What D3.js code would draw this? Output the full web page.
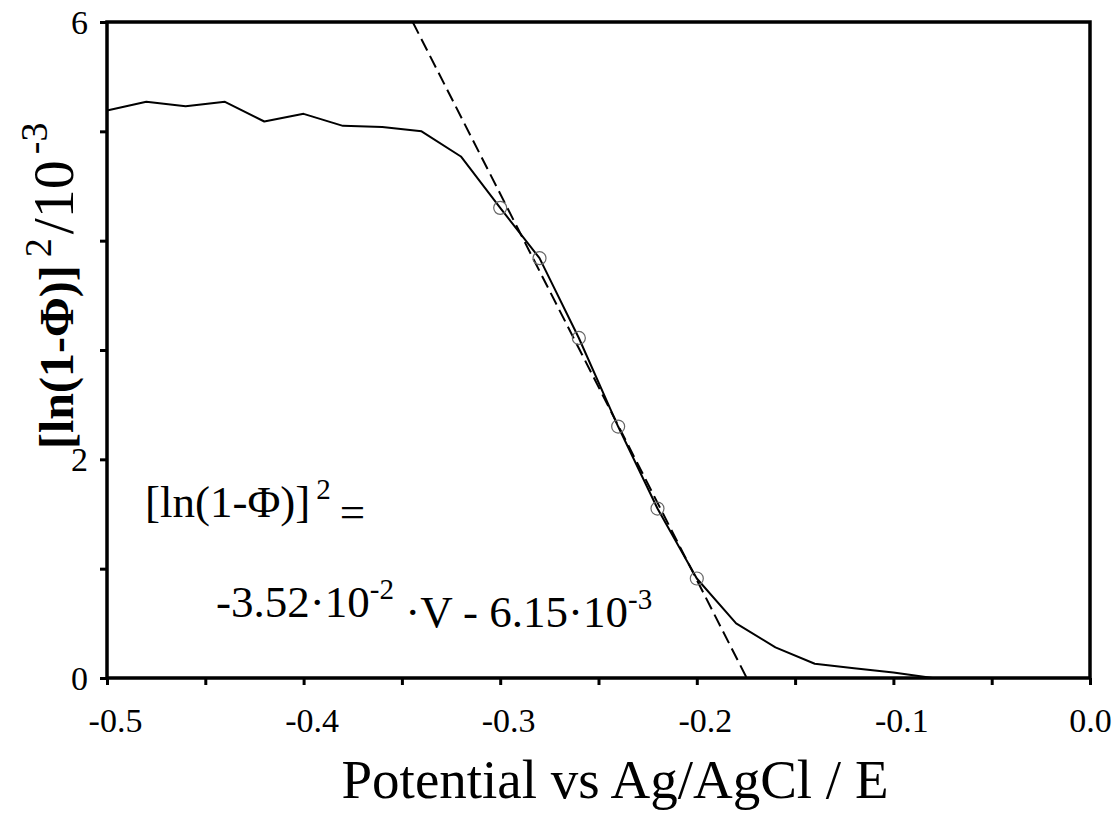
<!DOCTYPE html>
<html>
<head>
<meta charset="utf-8">
<script src="https://cdn.jsdelivr.net/npm/d3@7"></script>
<style>
  body { margin: 0; background: #fff; }
  svg { display: block; font-family: "Liberation Serif", "Times New Roman", serif; }
  .tick text { font-family: "Liberation Serif", "Times New Roman", serif; }
</style>
</head>
<body>
<div id="chart"></div>
<script>
/************************** DATA **************************/

// potential vs Ag/AgCl, V
var potential = [-0.50, -0.48, -0.46, -0.44, -0.42, -0.40, -0.38, -0.36, -0.34, -0.32, -0.30,
                 -0.28, -0.26, -0.24, -0.22, -0.20, -0.18, -0.16, -0.14, -0.12, -0.10, -0.08];
// [ln(1-Phi)]^2 / 10^-3
var lnSquared = [5.19, 5.27, 5.23, 5.27, 5.09, 5.16, 5.05, 5.04, 5.00, 4.77, 4.30,
                 3.84, 3.11, 2.30, 1.55, 0.91, 0.50, 0.28, 0.13, 0.09, 0.05, 0.00];

// points used for the linear fit
var fitPotential = [-0.30, -0.28, -0.26, -0.24, -0.22, -0.20];
var fitValues = [4.30, 3.84, 3.11, 2.30, 1.55, 0.91];

// ends of the dashed fit line
var fitLineX = [-0.3445, -0.1746];
var fitLineY = [6, 0];

var xTicks = [-0.5, -0.45, -0.4, -0.35, -0.3, -0.25, -0.2, -0.15, -0.1, -0.05, 0.0];
var xTickLabels = ["-0.5", "", "-0.4", "", "-0.3", "", "-0.2", "", "-0.1", "", "0.0"];
var yTicks = [0, 1, 2, 3, 4, 5, 6];
var yTickLabels = ["0", "", "2", "", "", "", "6"];

/************************** RENDER **************************/

var margin = { top: 22, right: 29, bottom: 136, left: 107 },
    width = 1119 - margin.left - margin.right,
    height = 814 - margin.top - margin.bottom;

var svg = d3.select("#chart").append("svg")
    .attr("width", 1119)
    .attr("height", 814);

var g = svg.append("g")
    .attr("transform", "translate(" + margin.left + "," + margin.top + ")");

var x = d3.scaleLinear().domain([-0.5, 0]).range([0, width]);
var y = d3.scaleLinear().domain([0, 6]).range([height, 0]);

g.append("clipPath").attr("id", "plot")
  .append("rect").attr("width", width).attr("height", height);

// axes
var xAxis = d3.axisBottom(x)
    .tickValues(xTicks)
    .tickSize(7)
    .tickPadding(23)
    .tickFormat(function(d, i) { return xTickLabels[i]; });

var yAxis = d3.axisLeft(y)
    .tickValues(yTicks)
    .tickSize(7)
    .tickPadding(12)
    .tickFormat(function(d, i) { return yTickLabels[i]; });

var gx = g.append("g")
    .attr("transform", "translate(0," + height + ")")
    .call(xAxis);
var gy = g.append("g").call(yAxis);

[gx, gy].forEach(function(a) {
  a.select(".domain").remove();
  a.selectAll(".tick line").attr("stroke", "#000").attr("stroke-width", 3);
  a.selectAll(".tick text").attr("fill", "#000").style("font-size", "34px");
});
gy.selectAll(".tick text").attr("dy", "0.34em");
// negative labels sit a little right of their tick
gx.selectAll(".tick text").attr("dx", function(d) { return d < 0 ? 8 : 0; });

// frame
g.append("rect")
    .attr("width", width)
    .attr("height", height)
    .attr("fill", "none")
    .attr("stroke", "#000")
    .attr("stroke-width", 3.5);

// measured curve
var line = d3.line()
    .x(function(d) { return x(d[0]); })
    .y(function(d) { return y(d[1]); });

g.append("path")
    .datum(d3.zip(potential, lnSquared))
    .attr("d", line)
    .attr("fill", "none")
    .attr("stroke", "#000")
    .attr("stroke-width", 2)
    .attr("stroke-linejoin", "round");

// linear fit
g.append("path")
    .datum(d3.zip(fitLineX, fitLineY))
    .attr("d", line)
    .attr("clip-path", "url(#plot)")
    .attr("fill", "none")
    .attr("stroke", "#000")
    .attr("stroke-width", 2)
    .attr("stroke-dasharray", "13,6");

// fitted points
g.selectAll(".fitPoint")
    .data(d3.zip(fitPotential, fitValues))
    .enter().append("circle")
      .attr("class", "fitPoint")
      .attr("cx", function(d) { return x(d[0]); })
      .attr("cy", function(d) { return y(d[1]); })
      .attr("r", 6.5)
      .attr("fill", "none")
      .attr("stroke", "#666")
      .attr("stroke-width", 1.2);

// axis titles
svg.append("text")
    .attr("x", 615)
    .attr("y", 798)
    .attr("text-anchor", "middle")
    .style("font-size", "55px")
    .text("Potential vs Ag/AgCl / E");

var yTitle = svg.append("text")
    .attr("transform", "translate(73,449) rotate(-90)")
    .attr("text-anchor", "start")
    .style("font-size", "48px");
yTitle.append("tspan").attr("font-weight", "bold").text("[ln(1-\u03A6)]");
yTitle.append("tspan").attr("dx", 8).attr("dy", -22).style("font-size", "38px").text("2");
yTitle.append("tspan").attr("dx", 4).attr("dy", 22).style("font-size", "58px").text("/10");
yTitle.append("tspan").attr("dx", 6).attr("dy", -26).style("font-size", "38px").text("-3");

// fit equation
var eq1 = svg.append("text")
    .attr("x", 145)
    .attr("y", 517)
    .style("font-size", "45px");
eq1.append("tspan").text("[ln(1-\u03A6)]");
eq1.append("tspan").attr("dy", "-0.62em").style("font-size", "29px").text("\u20092");
eq1.append("tspan").attr("dy", "0.62em").text("\u2009=");

var eq2 = svg.append("text")
    .attr("x", 216)
    .attr("y", 617)
    .style("font-size", "45px");
eq2.append("tspan").text("-3.52\u00B710");
eq2.append("tspan").attr("dy", "-0.62em").style("font-size", "29px").text("-2");
eq2.append("tspan").attr("dy", "0.62em").text(" \u00B7V - 6.15\u00B710");
eq2.append("tspan").attr("dy", "-0.62em").style("font-size", "29px").text("-3");
</script>
</body>
</html>
